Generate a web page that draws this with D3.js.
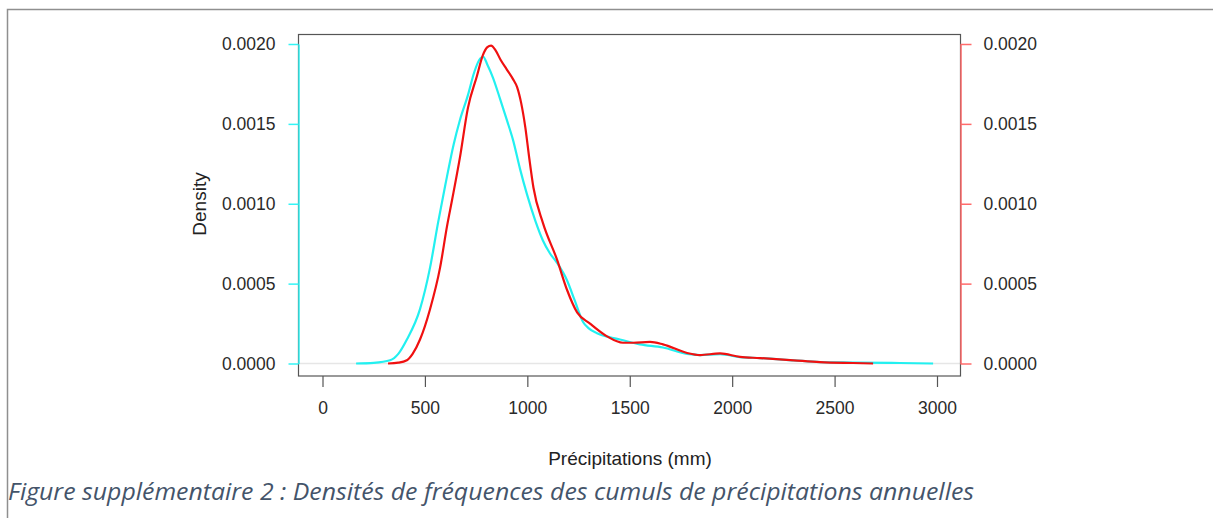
<!DOCTYPE html>
<html><head><meta charset="utf-8">
<script src="https://cdn.jsdelivr.net/npm/d3@7"></script>
<style>body{margin:0;background:#fff}</style>
</head><body>
<svg id="c" width="1213" height="518"></svg>
<script>
const xTicks = [0, 500, 1000, 1500, 2000, 2500, 3000];
const yTicks = [0, 0.0005, 0.001, 0.0015, 0.002];
const cyanX = [164, 250, 330, 370, 412, 476, 525, 564, 600, 640, 670, 710, 740, 765, 785, 805, 832, 866, 901, 930, 964, 998, 1040, 1076, 1110, 1145, 1194, 1230, 1272, 1300, 1340, 1400, 1452, 1550, 1662, 1780, 1843, 1941, 2038, 2136, 2300, 2429, 2590, 2819, 2981];
const cyanY = [0, 0.000004, 0.00002, 0.00006, 0.00015, 0.00034, 0.00060, 0.00088, 0.00112, 0.00137, 0.00152, 0.00168, 0.00182, 0.00190, 0.00192, 0.00187, 0.00179, 0.00166, 0.00152, 0.00140, 0.00122, 0.00106, 0.00089, 0.00077, 0.00069, 0.00063, 0.00052, 0.00040, 0.00026, 0.00022, 0.00019, 0.000165, 0.00015, 0.00012, 0.00010, 0.00006, 0.000053, 0.000058, 0.00004, 0.000034, 0.00002, 0.000009, 0.000006, 0.000003, 0];
const redX = [320, 370, 412, 440, 476, 525, 574, 608, 632, 671, 710, 754, 783, 805, 823, 845, 870, 900, 930, 950, 970, 990, 1010, 1030, 1076, 1145, 1194, 1243, 1306, 1389, 1467, 1516, 1599, 1662, 1780, 1843, 1941, 2038, 2136, 2300, 2429, 2590, 2688];
const redY = [0, 0.000005, 0.00002, 0.00006, 0.00015, 0.00034, 0.00060, 0.00086, 0.00102, 0.00129, 0.00160, 0.00180, 0.00193, 0.00198, 0.00199, 0.00196, 0.00190, 0.00184, 0.00178, 0.00173, 0.00163, 0.00148, 0.00128, 0.00110, 0.00088, 0.00065, 0.00046, 0.00032, 0.00025, 0.00017, 0.00013, 0.00013, 0.000135, 0.00012, 0.000066, 0.000053, 0.000063, 0.000041, 0.000034, 0.00002, 0.000009, 0.000003, 0];

const svg = d3.select("#c");
const font = "'Liberation Sans', Arial, sans-serif";
const x = d3.scaleLinear().domain([0, 3000]).range([322.5, 937]);
const y = d3.scaleLinear().domain([0, 0.002]).range([363.5, 44]);

// outer frame
svg.append("path").attr("d", "M7.5,518 L7.5,9.5 L1213,9.5").attr("fill", "none").attr("stroke", "#8f8f8f").attr("stroke-width", 1.5);

// zero line
svg.append("line").attr("x1", 298.5).attr("x2", 960.5).attr("y1", y(0)).attr("y2", y(0)).attr("stroke", "#e6e6e6").attr("stroke-width", 1.5);

// box
svg.append("rect").attr("x", 298.5).attr("y", 34.5).attr("width", 662).attr("height", 341.5).attr("fill", "none").attr("stroke", "#555").attr("stroke-width", 1.2);

const fmt = d3.format(".4f");
// left axis (cyan)
const gl = svg.append("g").attr("transform", "translate(298.5,0)")
  .call(d3.axisLeft(y).tickValues(yTicks).tickFormat(fmt).tickSize(10).tickSizeOuter(0).tickPadding(13));
gl.select(".domain").attr("stroke", "#33f5f5").attr("stroke-width", 1.5);
gl.selectAll(".tick line").attr("stroke", "#33f5f5").attr("stroke-width", 1.5);
gl.selectAll("text").attr("font-family", font).attr("font-size", 17.5).attr("fill", "#2a2a2a");

// right axis (red)
const gr = svg.append("g").attr("transform", "translate(960.5,0)")
  .call(d3.axisRight(y).tickValues(yTicks).tickFormat(fmt).tickSize(11).tickSizeOuter(0).tickPadding(12));
gr.select(".domain").attr("stroke", "#ff6b6b").attr("stroke-width", 1.5);
gr.selectAll(".tick line").attr("stroke", "#ff6b6b").attr("stroke-width", 1.5);
gr.selectAll("text").attr("font-family", font).attr("font-size", 17.5).attr("fill", "#2a2a2a");

// bottom axis
const gb = svg.append("g").attr("transform", "translate(0,376)")
  .call(d3.axisBottom(x).tickValues(xTicks).tickFormat(d3.format("d")).tickSize(11).tickSizeOuter(0).tickPadding(15));
gb.select(".domain").attr("stroke", "none");
gb.selectAll(".tick line").attr("stroke", "#555").attr("stroke-width", 1.2);
gb.selectAll("text").attr("font-family", font).attr("font-size", 17.5).attr("fill", "#2a2a2a");

// curves
const line = d3.line().x(d => x(d[0])).y(d => y(d[1])).curve(d3.curveMonotoneX);
svg.append("path").datum(cyanX.map((v, i) => [v, cyanY[i]]))
  .attr("d", line).attr("fill", "none").attr("stroke", "#22f0f0").attr("stroke-width", 2.2);
svg.append("path").datum(redX.map((v, i) => [v, redY[i]]))
  .attr("d", line).attr("fill", "none").attr("stroke", "#f01010").attr("stroke-width", 2.2);

// axis titles
svg.append("text").attr("x", 630).attr("y", 465).attr("text-anchor", "middle")
  .attr("font-family", font).attr("font-size", 19).attr("fill", "#222").text("Précipitations (mm)");
svg.append("text").attr("transform", "translate(206,204) rotate(-90)").attr("text-anchor", "middle")
  .attr("font-family", font).attr("font-size", 19).attr("fill", "#222").text("Density");

// caption
svg.append("text").attr("x", 8).attr("y", 500).attr("font-family", "'Open Sans', 'Noto Sans', sans-serif")
  .attr("font-style", "italic").attr("font-size", 24).attr("fill", "#44546a")
  .attr("textLength", 966).attr("lengthAdjust", "spacingAndGlyphs")
  .text("Figure supplémentaire 2 : Densités de fréquences des cumuls de précipitations annuelles");
</script>
</body></html>
